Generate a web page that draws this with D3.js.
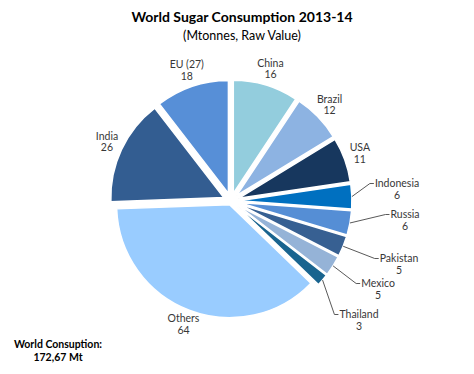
<!DOCTYPE html>
<html>
<head>
<meta charset="utf-8">
<script src="https://cdn.jsdelivr.net/npm/d3@7"></script>
<style>
  body { margin: 0; background: #fff; }
  text { font-family: Lato, "DejaVu Sans", sans-serif; }
</style>
</head>
<body>
<div id="chart"></div>
<script>
// data (Mt, raw value) in chart order, clockwise from 12 o'clock
var countries = ["China", "Brazil", "USA", "Indonesia", "Russia", "Pakistan", "Mexico", "Thailand", "Others", "India", "EU (27)"];
var consumption = [16, 12, 11, 6, 6, 5, 5, 3, 64, 26, 18];
var sliceColors = ["#93CDDD", "#8DB3E2", "#17375E", "#0070C0", "#558ED5", "#376092", "#95B3D7", "#19648F", "#99CCFF", "#335D91", "#578FD7"];

// small slices get a label pulled out with a leader line
var callouts = {
  "Indonesia": [397, 187],
  "Russia": [405, 218],
  "Pakistan": [399, 262],
  "Mexico": [378, 287],
  "Thailand": [359, 318]
};

var svgWidth = 474;
var svgHeight = 374;

var cx = 231, cy = 201;
var radius = 113;

var svg = d3.select("#chart")
  .append("svg")
  .attr("width", svgWidth)
  .attr("height", svgHeight);

// titles
svg.append("text")
  .attr("x", 242)
  .attr("y", 22)
  .attr("text-anchor", "middle")
  .style("font-size", "14px")
  .style("font-weight", "bold")
  .attr("fill", "#000")
  .text("World Sugar Consumption 2013-14");

svg.append("text")
  .attr("x", 242)
  .attr("y", 40)
  .attr("text-anchor", "middle")
  .style("font-size", "12.5px")
  .attr("fill", "#000")
  .text("(Mtonnes, Raw Value)");

var data = countries.map(function(c, i) {
  return { name: c, value: consumption[i], color: sliceColors[i] };
});

var pie = d3.pie()
  .sort(null)
  .value(d => d.value);

var arc = d3.arc()
  .innerRadius(0)
  .outerRadius(radius);

var arcs = pie(data);

function explode(d) {
  return d.data.name === "Others" ? 4 : 8;
}

function midAngle(d) {
  return (d.startAngle + d.endAngle) / 2;
}

var pieGroup = svg.append("g")
  .attr("transform", `translate(${cx}, ${cy})`);

pieGroup.selectAll("path")
  .data(arcs)
  .enter()
  .append("path")
  .attr("d", arc)
  .attr("fill", d => d.data.color)
  .attr("stroke", "#fff")
  .attr("stroke-width", 1.5)
  .attr("transform", function(d) {
    var a = midAngle(d), e = explode(d);
    return `translate(${e * Math.sin(a)}, ${-e * Math.cos(a)})`;
  });

// labels
var labelGroup = svg.append("g");

arcs.forEach(function(d) {
  var a = midAngle(d);
  var lx, ly;
  var pos = callouts[d.data.name];
  if (pos) {
    lx = pos[0];
    ly = pos[1];
  } else {
    var lr = radius + explode(d) + 16;
    lx = cx + lr * Math.sin(a);
    ly = cy - lr * Math.cos(a) - 1;
  }

  var t = labelGroup.append("text")
    .attr("x", lx)
    .attr("y", ly)
    .attr("text-anchor", "middle")
    .style("font-size", "10.5px")
    .attr("fill", "#383838");
  t.append("tspan")
    .attr("x", lx)
    .attr("dy", pos ? 0 : -2)
    .text(d.data.name);
  t.append("tspan")
    .attr("x", lx)
    .attr("dy", 11.5)
    .text(d.data.value);

  if (pos) {
    // leader line from slice edge to the label's left side
    var w = t.select("tspan").node().getComputedTextLength();
    var r0 = radius + explode(d);
    var x0 = cx + r0 * Math.sin(a);
    var y0 = cy - r0 * Math.cos(a);
    var tx = lx - w / 2 - 1;
    var ty = ly - 3.5;
    labelGroup.append("polyline")
      .attr("points", `${x0},${y0} ${tx - 4},${ty} ${tx},${ty}`)
      .attr("fill", "none")
      .attr("stroke", "#595959")
      .attr("stroke-width", 1);
  }
});

// total note
svg.append("text")
  .attr("x", 58)
  .attr("y", 348)
  .attr("text-anchor", "middle")
  .style("font-size", "10.5px")
  .style("font-weight", "bold")
  .attr("fill", "#000")
  .text("World Consuption:");

svg.append("text")
  .attr("x", 58)
  .attr("y", 361)
  .attr("text-anchor", "middle")
  .style("font-size", "10.5px")
  .style("font-weight", "bold")
  .attr("fill", "#000")
  .text("172,67 Mt");
</script>
</body>
</html>
